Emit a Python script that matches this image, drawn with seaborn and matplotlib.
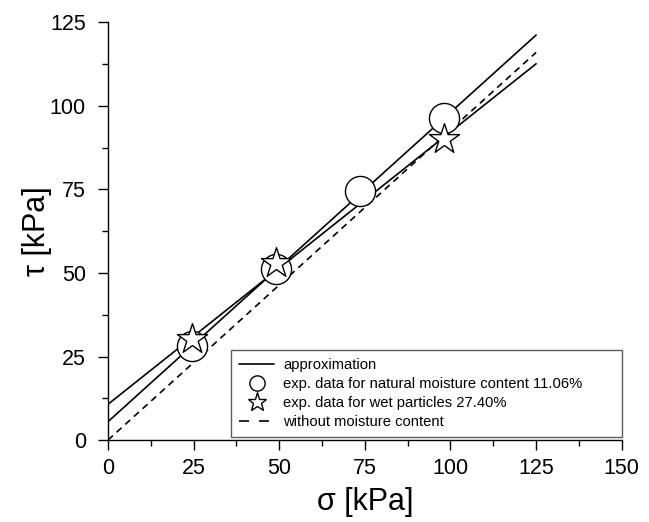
import matplotlib
matplotlib.use('agg')
import matplotlib.pyplot as plt
import seaborn as sns
from matplotlib.lines import Line2D
from matplotlib.ticker import MultipleLocator

# experimental points
sigma_nat = [24.5, 49.0, 73.5, 98.0]
tau_nat = [28.2, 51.2, 74.4, 96.3]
sigma_wet = [24.5, 49.0, 98.0]
tau_wet = [30.3, 53.1, 90.0]

# approximation lines (end points)
line_x = [0, 125]
approx_nat = [5.5, 121.2]
approx_wet = [10.7, 112.6]
dry_line = [0.0, 116.0]

labels = ["approximation",
          "exp. data for natural moisture content 11.06%",
          "exp. data for wet particles 27.40%",
          "without moisture content"]

sns.set_style("ticks")
plt.rcParams['font.family'] = ['Liberation Sans', 'DejaVu Sans']
plt.rcParams['text.color'] = 'black'
plt.rcParams['axes.labelcolor'] = 'black'
plt.rcParams['xtick.color'] = 'black'
plt.rcParams['ytick.color'] = 'black'

fig = plt.figure(figsize=(6.49, 5.22), dpi=100)
ax = fig.add_axes([0.1664, 0.157, 0.7916, 0.8002])

sns.lineplot(x=line_x, y=approx_nat, ax=ax, color="black", lw=1.2)
sns.lineplot(x=line_x, y=approx_wet, ax=ax, color="black", lw=1.2)
sns.lineplot(x=line_x, y=dry_line, ax=ax, color="black", lw=1.2, linestyle=(0, (4, 3)))

sns.scatterplot(x=sigma_nat, y=tau_nat, ax=ax, marker="o", s=470,
                facecolor="white", edgecolor="black", linewidth=1.0, zorder=3)
sns.scatterplot(x=sigma_wet, y=tau_wet, ax=ax, marker="*", s=520,
                facecolor="white", edgecolor="black", linewidth=1.0, zorder=4)

ax.set_xlim(0, 150)
ax.set_ylim(0, 125)
ax.xaxis.set_major_locator(MultipleLocator(25))
ax.xaxis.set_minor_locator(MultipleLocator(12.5))
ax.yaxis.set_major_locator(MultipleLocator(25))
ax.yaxis.set_minor_locator(MultipleLocator(12.5))
ax.tick_params(which="major", direction="out", length=7, width=1, labelsize=15.5, color="black")
ax.tick_params(which="minor", direction="out", length=4, width=1, color="black")
ax.tick_params(axis="x", pad=6)
ax.tick_params(axis="y", pad=9)
sns.despine(ax=ax)
for s in ["left", "bottom"]:
    ax.spines[s].set_color("black")
    ax.spines[s].set_linewidth(1.0)

ax.set_xlabel("σ [kPa]", fontsize=22, labelpad=6)
ax.set_ylabel("τ [kPa]", fontsize=22, labelpad=-2)

handles = [
    Line2D([], [], color="black", lw=1.2),
    Line2D([], [], marker="o", ls="none", markersize=11, markerfacecolor="white",
           markeredgecolor="black", markeredgewidth=1.0),
    Line2D([], [], marker="*", ls="none", markersize=14, markerfacecolor="white",
           markeredgecolor="black", markeredgewidth=1.0),
    Line2D([], [], color="black", lw=1.2, linestyle=(0, (6, 6))),
]
leg = ax.legend(handles, labels, loc="lower left", bbox_to_anchor=(0.2394, 0.007, 0.7606, 0.204),
                mode="expand", fontsize=10.6, frameon=True, fancybox=False, borderaxespad=0,
                handlelength=2.4, handletextpad=0.6, labelspacing=0.33, borderpad=0.55)
leg.get_frame().set_edgecolor("#333333")
leg.get_frame().set_linewidth(1.0)

fig.savefig("out.png", dpi=100)
